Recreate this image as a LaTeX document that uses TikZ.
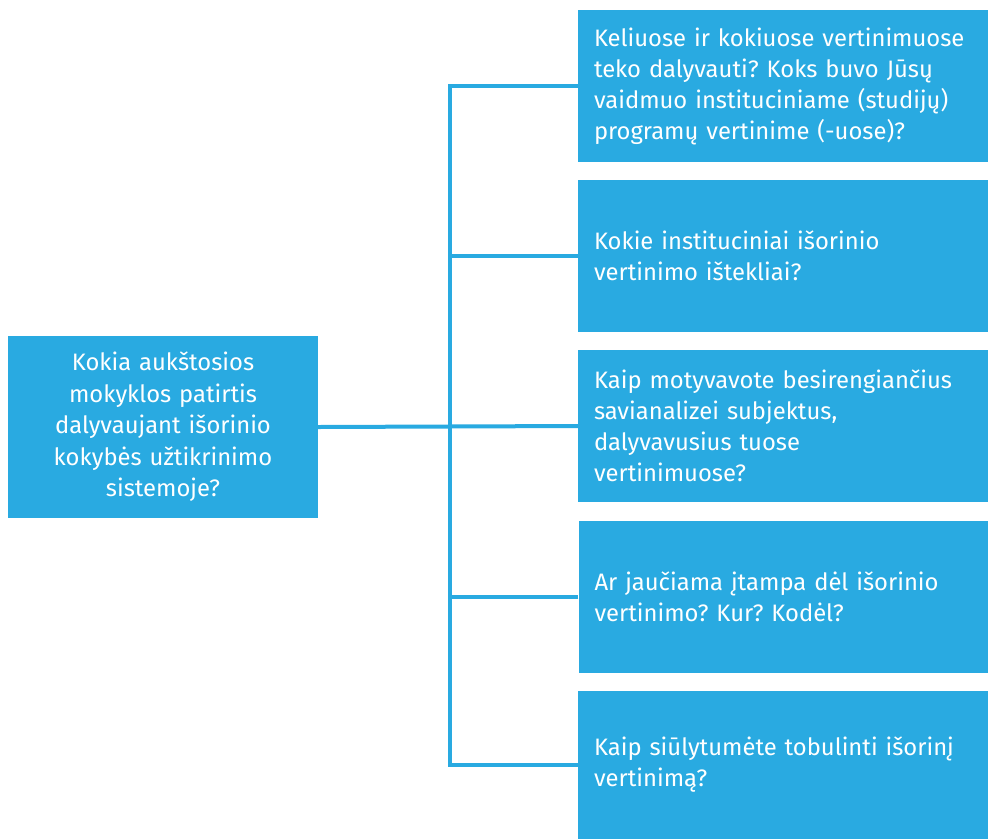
\documentclass[tikz,border=0pt]{standalone}
\usepackage{fontspec}
\setmainfont{Fira Sans}
\frenchspacing
\hyphenpenalty=10000
\exhyphenpenalty=10000
\definecolor{boxblue}{HTML}{29AAE1}
\tikzset{
  qbox/.style={fill=boxblue, text=white, minimum width=410pt, minimum height=152pt,
    text width=378pt, inner xsep=16pt, inner ysep=0pt, align=left,
    font=\fontsize{23.8}{31}\selectfont},
  rootbox/.style={fill=boxblue, text=white, minimum width=310pt, minimum height=182pt,
    text width=300pt, inner xsep=5pt, align=center,
    font=\fontsize{23.8}{31.5}\selectfont},
  conn/.style={draw=boxblue, line width=4pt, line join=miter}
}
\begin{document}
\begin{tikzpicture}[x=1pt,y=-1pt]
\useasboundingbox (0,0) rectangle (988,839);
\node[rootbox] (root) at (163,427) {Kokia aukštosios\\mokyklos patirtis\\dalyvaujant išorinio\\kokybės užtikrinimo\\sistemoje?};
\node[qbox] (b1) at (783,86) {Keliuose ir kokiuose vertinimuose\\teko dalyvauti? Koks buvo Jūsų\\vaidmuo instituciniame (studijų)\\programų vertinime (-uose)?};
\node[qbox] (b2) at (783,256) {Kokie instituciniai išorinio\\vertinimo ištekliai?};
\node[qbox] (b3) at (783,426) {Kaip motyvavote besirengiančius\\savianalizei subjektus,\\dalyvavusius tuose\\vertinimuose?};
\node[qbox] (b4) at (783.5,596.5) {Ar jaučiama įtampa dėl išorinio\\vertinimo? Kur? Kodėl?};
\node[qbox, minimum height=148pt] (b5) at (783,765) {Kaip siūlytumėte tobulinti išorinį\\vertinimą?};
\coordinate (sx) at (450,0);
\draw[conn] (b1.west) -- (b1.west -| sx) -- (b5.west -| sx) -- (b5.west);
\draw[conn] (b2.west) -- (b2.west -| sx);
\draw[conn] (b4.west) -- (b4.west -| sx);
\draw[conn] (root.east) -- (b3.west);
\end{tikzpicture}
\end{document}
